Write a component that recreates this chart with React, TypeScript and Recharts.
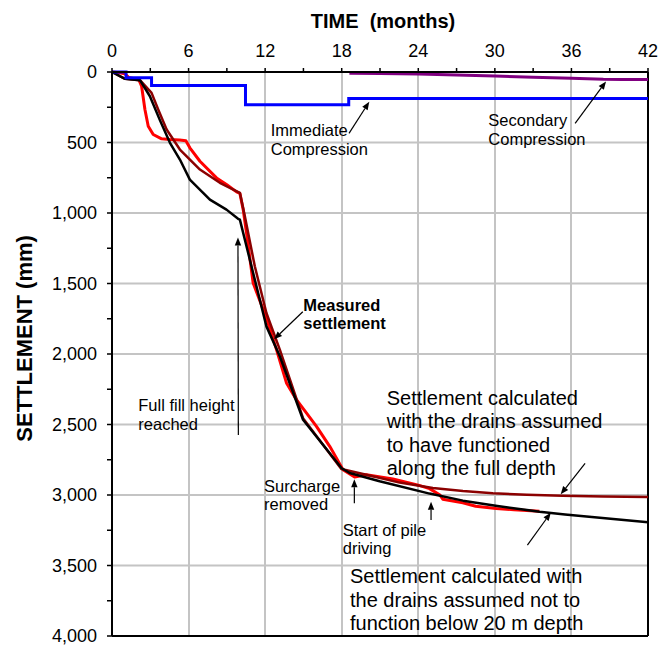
import React from 'react';
import { LineChart, Line, XAxis, YAxis, ReferenceLine, ReferenceDot } from 'recharts';

// ---- axis values ----
const monthTicks = [0, 3, 6, 9, 12, 15, 18, 21, 24, 27, 30, 33, 36, 39, 42];
const settlementTicks = [0, 250, 500, 750, 1000, 1250, 1500, 1750, 2000, 2250, 2500, 2750, 3000, 3250, 3500, 3750, 4000];
const gridMonths = [6, 12, 18, 24, 30, 36];
const gridSettlements = [500, 1000, 1500, 2000, 2500, 3000, 3500];

// ---- series: [month, settlement mm] ----
const measured: [number, number][] = [
  [0, 0], [0.6, 5], [1.0, 12], [1.3, 38], [2.1, 55], [2.32, 101], [2.58, 266], [2.84, 385], [3.23, 443],
  [3.89, 474], [4.54, 479], [5.3, 482], [5.79, 488], [6.1, 538], [6.89, 633], [8.19, 751], [9.0, 800],
  [9.76, 850], [10.02, 860], [10.28, 976], [10.54, 1141], [11.06, 1496], [12.1, 1745], [12.89, 1969],
  [13.67, 2205], [14.45, 2324], [15.23, 2418], [16.02, 2513], [17.06, 2655], [18.1, 2820], [19.01, 2872],
  [19.93, 2856], [22.01, 2886], [24.0, 2930], [24.88, 2955], [25.67, 2998], [25.92, 3030], [27.49, 3055],
  [28.5, 3080], [30.1, 3095], [31.5, 3105], [33.49, 3116],
];

const calcFullDepth: [number, number][] = [
  [0, 0], [1.02, 48], [2.19, 58], [3.1, 148], [3.62, 266], [4.28, 408], [5.32, 550], [6.89, 692],
  [8.45, 786], [10.02, 857], [10.41, 1023], [11.19, 1378], [12.1, 1709], [13.15, 1969], [14.97, 2455],
  [17.97, 2815], [19.93, 2856], [22.54, 2912], [25.14, 2950], [27.5, 2972], [29.84, 2988], [32.5, 2998],
  [35.3, 3005], [38.5, 3010], [42, 3014],
];

const calcNotBelow20m: [number, number][] = [
  [0, 0], [1.02, 48], [2.19, 58], [2.97, 172], [3.76, 343], [4.54, 502], [5.32, 621], [6.1, 763],
  [7.67, 905], [8.97, 976], [9.88, 1041], [10.02, 1047], [12.1, 1804], [13.15, 2016], [14.97, 2466],
  [18.0, 2810], [18.62, 2844], [20.97, 2903], [24.88, 2990], [27.5, 3040], [30.2, 3078], [33.5, 3118],
  [35.5, 3138], [42, 3194],
];

const immediateCompression: [number, number][] = [
  [0, 0], [1.1, 0], [1.1, 40], [3.1, 40], [3.1, 95], [10.46, 95], [10.46, 232], [18.55, 232], [18.55, 188], [42, 188],
];

const secondaryCompression: [number, number][] = [
  [18.6, 8], [21, 10], [24, 15], [27, 21], [30, 29], [33, 37], [36, 45], [38.5, 52], [40, 53], [42, 53],
];

const toPoints = (pairs: [number, number][]) => pairs.map(([t, s]) => ({ t, s }));

// ---- annotations (data coordinates) ----
const notes = [
  { t: 12.44, s: 452, lines: ['Immediate', 'Compression'], size: 16.5, lh: 19.3, bold: false },
  { t: 29.49, s: 383, lines: ['Secondary', 'Compression'], size: 16.5, lh: 19, bold: false },
  { t: 14.99, s: 1693, lines: ['Measured', 'settlement'], size: 16.5, lh: 18.3, bold: true },
  { t: 2.06, s: 2402, lines: ['Full fill height', 'reached'], size: 16.5, lh: 19.3, bold: false },
  { t: 11.91, s: 2977, lines: ['Surcharge', 'removed'], size: 16.5, lh: 18.3, bold: false },
  { t: 18.08, s: 3291, lines: ['Start of pile', 'driving'], size: 16.5, lh: 18.3, bold: false },
  {
    t: 21.53, s: 2362,
    lines: ['Settlement calculated', 'with the drains assumed', 'to have functioned', 'along the full depth'],
    size: 20, lh: 23.3, bold: false,
  },
  {
    t: 18.65, s: 3626,
    lines: ['Settlement calculated with', 'the drains assumed not to', 'function below 20 m depth'],
    size: 20, lh: 23.3, bold: false,
  },
];

const arrows: { from: [number, number]; to: [number, number] }[] = [
  { from: [18.57, 435], to: [20.16, 211] },
  { from: [36.29, 364], to: [38.71, 67] },
  { from: [14.95, 1700], to: [12.7, 1896] },
  { from: [9.9, 2574], to: [9.87, 1174] },
  { from: [18.99, 3059], to: [18.99, 2889] },
  { from: [25.0, 3177], to: [25.0, 3048] },
  { from: [37.07, 2775], to: [35.16, 2995] },
  { from: [32.55, 3355], to: [34.38, 3126] },
];

const FONT = '"Liberation Sans", Arial, Helvetica, sans-serif';
const GRID = '#c4c4c4';

const ArrowShape = (props: any) => {
  const { x1, y1, x2, y2 } = props;
  const dx = x2 - x1;
  const dy = y2 - y1;
  const len = Math.sqrt(dx * dx + dy * dy) || 1;
  const ux = dx / len;
  const uy = dy / len;
  const hl = 8;
  const hw = 3.2;
  const bx = x2 - ux * hl;
  const by = y2 - uy * hl;
  const pts = `${x2},${y2} ${bx - uy * hw},${by + ux * hw} ${bx + uy * hw},${by - ux * hw}`;
  return (
    <g>
      <line x1={x1} y1={y1} x2={bx} y2={by} stroke="#000" strokeWidth={1.2} />
      <polygon points={pts} fill="#000" />
    </g>
  );
};

const VGridShape = (props: any) => {
  const { x1, y1, x2, y2 } = props;
  return (
    <line x1={Math.round(x1)} y1={y1} x2={Math.round(x2)} y2={y2} stroke={GRID} strokeWidth={2}
      shapeRendering="crispEdges" />
  );
};

const makeNoteShape = (lines: string[], size: number, lh: number, bold: boolean) => (props: any) => {
  const { cx, cy } = props;
  return (
    <text x={cx} y={cy} fontSize={size} fontFamily={FONT} fontWeight={bold ? 'bold' : 'normal'} fill="#000">
      {lines.map((ln, i) => (
        <tspan key={i} x={cx} y={cy + i * lh}>
          {ln}
        </tspan>
      ))}
    </text>
  );
};

const fmtSettlement = (v: number) =>
  v % 500 === 0 ? String(v).replace(/\B(?=(\d{3})+(?!\d))/g, ',') : '';
const fmtMonth = (v: number) => (v % 6 === 0 ? String(v) : '');

export default function App() {
  return (
    <div style={{ width: 660, height: 638, fontFamily: FONT }}>
      <LineChart width={660} height={638} margin={{ top: 0, right: 20, bottom: 10, left: 0 }}>
        <XAxis
          dataKey="t"
          type="number"
          orientation="top"
          domain={[0, 42]}
          ticks={monthTicks}
          interval={0}
          height={64}
          tickSize={4}
          tickMargin={11}
          tickFormatter={fmtMonth}
          tick={{ fill: '#000', fontSize: 18, fontFamily: FONT }}
          axisLine={{ stroke: '#000', strokeWidth: 2 }}
          tickLine={{ stroke: '#000', strokeWidth: 1.5 }}
          label={{
            content: (p: any) => {
              const vb = p.viewBox || { x: 104, y: 0, width: 536, height: 64 };
              return (
                <text
                  x={vb.x + vb.width / 2 + 3}
                  y={vb.y + 19.7}
                  textAnchor="middle"
                  fontSize={20}
                  fontWeight="bold"
                  fontFamily={FONT}
                  fill="#000"
                  style={{ whiteSpace: 'pre' }}
                >
                  {'TIME  (months)'}
                </text>
              );
            },
          }}
        />
        <YAxis
          type="number"
          domain={[0, 4000]}
          reversed
          ticks={settlementTicks}
          interval={0}
          width={104}
          tickSize={5}
          tickMargin={10}
          tickFormatter={fmtSettlement}
          tick={{ fill: '#000', fontSize: 18, fontFamily: FONT }}
          axisLine={{ stroke: '#000', strokeWidth: 2 }}
          tickLine={{ stroke: '#000', strokeWidth: 1.5 }}
          label={{
            content: (p: any) => {
              const vb = p.viewBox || { x: 0, y: 64, width: 104, height: 564 };
              const cy = vb.y + vb.height / 2 - 15.6;
              return (
                <text
                  transform={`translate(${vb.x + 23.7},${cy}) rotate(-90)`}
                  x={0}
                  y={0}
                  textAnchor="middle"
                  fontSize={22}
                  fontWeight="bold"
                  fontFamily={FONT}
                  fill="#000"
                >
                  SETTLEMENT (mm)
                </text>
              );
            },
          }}
        />
        {gridMonths.map((m) => (
          <ReferenceLine
            key={`gx-${m}`}
            segment={[{ x: m, y: 0 }, { x: m, y: 4000 }]}
            ifOverflow="visible"
            stroke={GRID}
            shape={VGridShape}
          />
        ))}
        {gridSettlements.map((s) => (
          <Line
            key={`gy-${s}`}
            data={[{ t: 0, s }, { t: 42, s }]}
            dataKey="s"
            type="linear"
            stroke={GRID}
            strokeWidth={2}
            dot={false}
            activeDot={false}
            isAnimationActive={false}
          />
        ))}
        <ReferenceLine x={42} stroke="#000" strokeWidth={2} ifOverflow="visible" />
        <ReferenceLine y={4000} stroke="#000" strokeWidth={2} ifOverflow="visible" />

        <Line data={toPoints(measured)} dataKey="s" type="linear" stroke="#ff0000" strokeWidth={3}
          dot={false} isAnimationActive={false} strokeLinejoin="round" />
        <Line data={toPoints(calcFullDepth)} dataKey="s" type="linear" stroke="#8b0000" strokeWidth={2.5}
          dot={false} isAnimationActive={false} strokeLinejoin="round" />
        <Line data={toPoints(calcNotBelow20m)} dataKey="s" type="linear" stroke="#000000" strokeWidth={2.5}
          dot={false} isAnimationActive={false} strokeLinejoin="round" />
        <Line data={toPoints(immediateCompression)} dataKey="s" type="linear" stroke="#0000ff" strokeWidth={3}
          dot={false} isAnimationActive={false} />
        <Line data={toPoints(secondaryCompression)} dataKey="s" type="linear" stroke="#800080" strokeWidth={3}
          dot={false} isAnimationActive={false} />

        {arrows.map((a, i) => (
          <ReferenceLine
            key={`arrow-${i}`}
            segment={[{ x: a.from[0], y: a.from[1] }, { x: a.to[0], y: a.to[1] }]}
            ifOverflow="visible"
            stroke="#000"
            shape={ArrowShape}
          />
        ))}
        {notes.map((n, i) => (
          <ReferenceDot
            key={`note-${i}`}
            x={n.t}
            y={n.s}
            r={0}
            shape={makeNoteShape(n.lines, n.size, n.lh, n.bold)}
          />
        ))}
      </LineChart>
    </div>
  );
}
